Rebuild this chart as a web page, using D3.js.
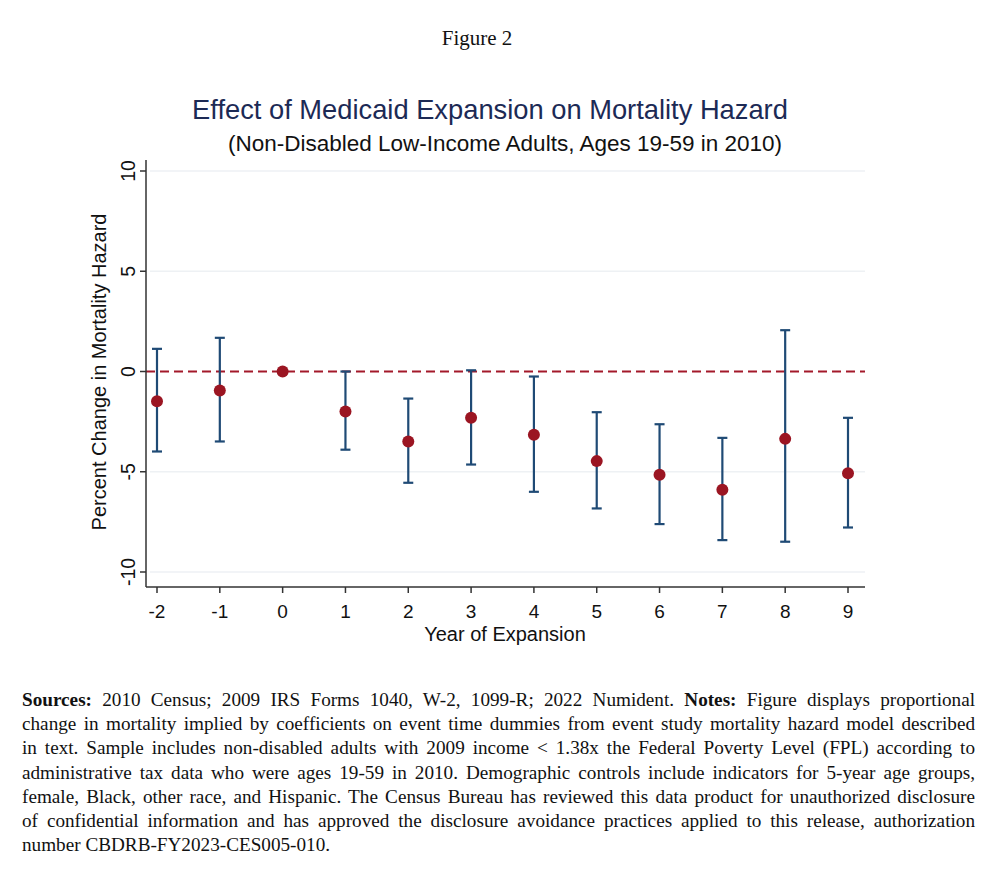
<!DOCTYPE html>
<html>
<head>
<meta charset="utf-8">
<script src="https://cdn.jsdelivr.net/npm/d3@7"></script>
<style>
  body { margin: 0; background: #fff; }
  #notes {
    position: absolute; left: 22px; top: 688px; width: 953px;
    font-family: "Liberation Serif", "Times New Roman", serif;
    font-size: 19.2px; line-height: 24.2px; color: #111;
  }
  #notes div { text-align: justify; text-align-last: justify; white-space: nowrap; }
  #notes div.last { text-align-last: left; }
</style>
</head>
<body>
<div id="chart"></div>
<div id="notes"></div>
<script>
// event-time estimates
var years = [-2, -1, 0, 1, 2, 3, 4, 5, 6, 7, 8, 9];
var estimate = [-1.48, -0.95, 0, -2.0, -3.49, -2.31, -3.16, -4.47, -5.15, -5.9, -3.36, -5.07];
var ciLow = [-3.99, -3.49, 0, -3.9, -5.55, -4.64, -6.0, -6.83, -7.61, -8.41, -8.49, -7.78];
var ciHigh = [1.13, 1.68, 0, 0, -1.35, 0.06, -0.25, -2.03, -2.63, -3.31, 2.06, -2.31];
var yTicks = [-10, -5, 0, 5, 10];

var noteLines = [
  "<b>Sources:</b> 2010 Census; 2009 IRS Forms 1040, W-2, 1099-R; 2022 Numident. <b>Notes:</b> Figure displays proportional",
  "change in mortality implied by coefficients on event time dummies from event study mortality hazard model described",
  "in text. Sample includes non-disabled adults with 2009 income &lt; 1.38x the Federal Poverty Level (FPL) according to",
  "administrative tax data who were ages 19-59 in 2010. Demographic controls include indicators for 5-year age groups,",
  "female, Black, other race, and Hispanic. The Census Bureau has reviewed this data product for unauthorized disclosure",
  "of confidential information and has approved the disclosure avoidance practices applied to this release, authorization",
  "number CBDRB-FY2023-CES005-010."
];

var width = 1000;
var sans = "'Liberation Sans', Arial, sans-serif";

var svg = d3.select("#chart").append("svg")
    .attr("width", width)
    .attr("height", 680)
    .style("position", "absolute").style("left", 0).style("top", 0);

var x = d3.scaleLinear().domain([-2, 9]).range([157, 848]);
var y = d3.scaleLinear().domain([-10, 10]).range([572, 171]);

var plotLeft = 146, plotRight = 865, plotTop = 160, plotBottom = 587;

// headings
svg.append("text")
    .attr("x", 477).attr("y", 45)
    .attr("text-anchor", "middle")
    .style("font-family", "'Liberation Serif', 'Times New Roman', serif")
    .style("font-size", "21px").style("fill", "#111")
    .text("Figure 2");

svg.append("text")
    .attr("x", 490).attr("y", 119)
    .attr("text-anchor", "middle")
    .style("font-family", sans)
    .style("font-size", "27.3px").style("fill", "#1c2a55")
    .text("Effect of Medicaid Expansion on Mortality Hazard");

svg.append("text")
    .attr("x", 505).attr("y", 151)
    .attr("text-anchor", "middle")
    .style("font-family", sans)
    .style("font-size", "22.5px").style("fill", "#111")
    .text("(Non-Disabled Low-Income Adults, Ages 19-59 in 2010)");

// faint gridlines
svg.append("g").selectAll("line")
    .data(yTicks.filter(function(d){ return d != 0; }))
    .enter().append("line")
    .attr("x1", plotLeft + 4).attr("x2", plotRight)
    .attr("y1", function(d){ return y(d); })
    .attr("y2", function(d){ return y(d); })
    .style("stroke", "#eef1f4").style("stroke-width", 1.5);

// zero reference line
svg.append("line")
    .attr("x1", plotLeft).attr("x2", plotRight)
    .attr("y1", y(0)).attr("y2", y(0))
    .style("stroke", "#a3192a").style("stroke-width", 2)
    .style("stroke-dasharray", "9,5");

// y axis
var yAxis = svg.append("g");
yAxis.append("line")
    .attr("x1", plotLeft).attr("x2", plotLeft)
    .attr("y1", plotTop).attr("y2", plotBottom)
    .style("stroke", "#333").style("stroke-width", 1.5);
var yt = yAxis.selectAll("g.tick").data(yTicks).enter().append("g")
    .attr("class", "tick")
    .attr("transform", function(d){ return "translate(0," + y(d) + ")"; });
yt.append("line")
    .attr("x1", plotLeft - 6).attr("x2", plotLeft)
    .style("stroke", "#333").style("stroke-width", 1.5);
yt.append("text")
    .attr("transform", "translate(" + (plotLeft - 11) + ",0) rotate(-90)")
    .attr("text-anchor", "middle")
    .style("font-family", sans).style("font-size", "19.5px").style("fill", "#111")
    .text(function(d){ return d; });

svg.append("text")
    .attr("transform", "translate(106," + 372 + ") rotate(-90)")
    .attr("text-anchor", "middle")
    .style("font-family", sans).style("font-size", "20px").style("fill", "#111")
    .text("Percent Change in Mortality Hazard");

// x axis
var xAxis = svg.append("g");
xAxis.append("line")
    .attr("x1", plotLeft).attr("x2", plotRight)
    .attr("y1", plotBottom).attr("y2", plotBottom)
    .style("stroke", "#333").style("stroke-width", 1.5);
var xt = xAxis.selectAll("g.tick").data(years).enter().append("g")
    .attr("class", "tick")
    .attr("transform", function(d){ return "translate(" + x(d) + "," + plotBottom + ")"; });
xt.append("line")
    .attr("y1", 0).attr("y2", 6)
    .style("stroke", "#333").style("stroke-width", 1.5);
xt.append("text")
    .attr("y", 31)
    .attr("text-anchor", "middle")
    .style("font-family", sans).style("font-size", "19px").style("fill", "#111")
    .text(function(d){ return d; });

svg.append("text")
    .attr("x", 505).attr("y", 641)
    .attr("text-anchor", "middle")
    .style("font-family", sans).style("font-size", "20px").style("fill", "#111")
    .text("Year of Expansion");

// confidence intervals
var bars = years.map(function(d, i){ return {year: d, lo: ciLow[i], hi: ciHigh[i], est: estimate[i]}; });
var ci = svg.append("g").selectAll("g.ci")
    .data(bars.filter(function(d){ return d.hi != d.lo; }))
    .enter().append("g").attr("class", "ci")
    .style("stroke", "#1f4a75").style("stroke-width", 2.2);
ci.append("line")
    .attr("x1", function(d){ return x(d.year); })
    .attr("x2", function(d){ return x(d.year); })
    .attr("y1", function(d){ return y(d.hi); })
    .attr("y2", function(d){ return y(d.lo); });
ci.append("line")
    .attr("x1", function(d){ return x(d.year) - 5; })
    .attr("x2", function(d){ return x(d.year) + 5; })
    .attr("y1", function(d){ return y(d.hi); })
    .attr("y2", function(d){ return y(d.hi); });
ci.append("line")
    .attr("x1", function(d){ return x(d.year) - 5; })
    .attr("x2", function(d){ return x(d.year) + 5; })
    .attr("y1", function(d){ return y(d.lo); })
    .attr("y2", function(d){ return y(d.lo); });

// point estimates
svg.append("g").selectAll("circle")
    .data(bars).enter().append("circle")
    .attr("cx", function(d){ return x(d.year); })
    .attr("cy", function(d){ return y(d.est); })
    .attr("r", 6)
    .style("fill", "#9b1522");

// notes
d3.select("#notes").selectAll("div")
    .data(noteLines).enter().append("div")
    .attr("class", function(d, i){ return i == noteLines.length - 1 ? "last" : null; })
    .html(function(d){ return d; });
</script>
</body>
</html>
